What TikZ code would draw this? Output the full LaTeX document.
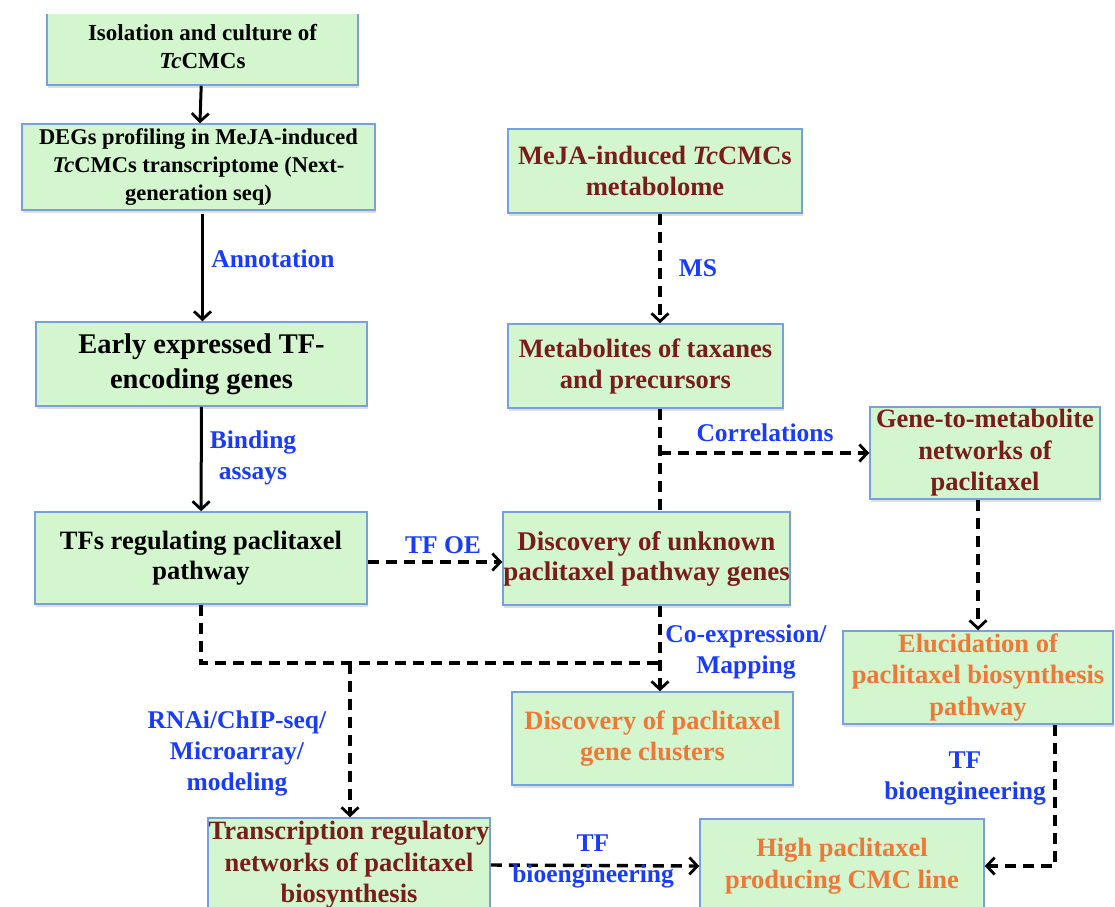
\documentclass[tikz,border=0pt]{standalone}
\usepackage{fontspec}
\setmainfont{Liberation Serif}
\usepackage{tikz}
\usetikzlibrary{arrows.meta,positioning,calc,shadows}
\definecolor{boxfill}{RGB}{212,246,207}
\definecolor{boxline}{RGB}{120,160,225}
\definecolor{darkred}{RGB}{122,28,28}
\definecolor{steporange}{RGB}{238,120,55}
\definecolor{labelblue}{RGB}{25,60,250}

\begin{document}
\begin{tikzpicture}[x=1pt, y=-1pt,
    block/.style={rectangle, draw=boxline, line width=1.5pt, fill=boxfill, drop shadow={opacity=0.25, shadow xshift=1pt, shadow yshift=-2.5pt}, align=center, inner sep=0pt, font=\bfseries\fontsize{26.5}{31.5}\selectfont},
    edgetext/.style={align=center, text=labelblue, font=\bfseries\fontsize{25.5}{31}\selectfont},
    arrow/.style={-{Straight Barb[length=8pt, width=17pt, line width=2.8pt]}, line width=3pt},
    darrow/.style={-{Straight Barb[length=8pt, width=17pt, line width=2.8pt]}, line width=3.4pt, dash pattern=on 11pt off 7pt},
    dline/.style={line width=3.4pt, dash pattern=on 11pt off 7pt}
]
\useasboundingbox (0,0) rectangle (1115,906);
\clip (0,14) rectangle (1115,906);

% left column
\node[block, minimum width=311, minimum height=76, font=\bfseries\fontsize{23}{28}\selectfont] (iso) at (202.5,47) {Isolation and culture of\\\textit{Tc}CMCs};
\node[block, minimum width=353, minimum height=86, font=\bfseries\fontsize{22.5}{28}\selectfont] (degs) at (198.5,167) {DEGs profiling in MeJA-induced\\\textit{Tc}CMCs transcriptome (Next-\\generation seq)};
\node[block, minimum width=331, minimum height=84, font=\bfseries\fontsize{28.5}{35}\selectfont] (early) at (201.5,364) {Early expressed TF-\\encoding genes};
\node[block, minimum width=332, minimum height=92, font=\bfseries\fontsize{26.5}{30}\selectfont] (tfs) at (201,558) {TFs regulating paclitaxel\\pathway};

% middle column
\node[block, minimum width=294, minimum height=84, text=darkred, font=\bfseries\fontsize{26.5}{31}\selectfont] (meja) at (655,171) {MeJA-induced \textit{Tc}CMCs\\metabolome};
\node[block, minimum width=275, minimum height=84, text=darkred, font=\bfseries\fontsize{26.5}{31}\selectfont] (metab) at (645.5,366) {Metabolites of taxanes\\and precursors};
\node[block, minimum width=287, minimum height=93, text=darkred, font=\bfseries\fontsize{27}{30}\selectfont] (disc) at (646.5,558.5) {Discovery of unknown\\paclitaxel pathway genes};
\node[block, minimum width=281, minimum height=93, text=steporange] (clus) at (652.5,738.5) {Discovery of paclitaxel\\gene clusters};

% right column
\node[block, minimum width=230, minimum height=92, text=darkred] (gene) at (985,453) {Gene-to-metabolite\\networks of\\paclitaxel};
\node[block, minimum width=270, minimum height=93, text=steporange] (eluc) at (978,677.5) {Elucidation of\\paclitaxel biosynthesis\\pathway};

% bottom row
\node[block, minimum width=282, minimum height=94, text=darkred] (trn) at (349,865) {Transcription regulatory\\networks of paclitaxel\\biosynthesis};
\node[block, minimum width=284, minimum height=94, text=steporange] (high) at (842,866) {High paclitaxel\\producing CMC line};

\coordinate (colA) at (660,0);
\coordinate (colB) at (350,0);
\coordinate (colC) at (978,0);
\coordinate (colD) at (1055,0);
\coordinate (junc) at (660,663);
\coordinate (rowE) at (0,562);

\draw[arrow] (iso) -- (degs);
\draw[arrow] (degs.south -| iso.south) ++(0,3) -- (early.north -| iso.south);
\draw[arrow] (early) -- (tfs);
\node[edgetext] (annot) at (273,259) {Annotation};
\node[edgetext] (bind) at (253,458) {Binding\\assays};

\draw[darrow] (meja.south -| colA) -- (metab.north -| colA);
\node[edgetext] (ms) at (698,268) {MS};
\draw[dline] (metab.south -| colA) -- (disc.north -| colA);
\draw[darrow] (gene.west -| colA) -- (gene.west);
\node[edgetext] (corr) at (765,433) {Correlations};

\draw[darrow] (tfs.east |- rowE) -- (disc.west |- rowE);
\node[edgetext] (oe) at (443,545) {TF OE};

\draw[darrow] (gene.south -| colC) -- (eluc.north -| colC);

\draw[darrow] (disc.south -| colA) -- (clus.north -| colA);
\node[edgetext] (coexp) at (746,652) {Co-expression/\\Mapping};

\draw[dline] (tfs.south) |- (junc);
\draw[darrow] (junc -| colB) -- (trn.north -| colB);
\node[edgetext] (rnai) at (237,753) {RNAi/ChIP-seq/\\Microarray/\\modeling};

\draw[darrow] (trn.east) -- (high.west);
\node[edgetext] (bioA) at (593,861) {TF\\bioengineering};

\draw[darrow] (eluc.south -| colD) |- (high.east);
\node[edgetext] (bioB) at (965,778) {TF\\bioengineering};
\end{tikzpicture}
\end{document}
